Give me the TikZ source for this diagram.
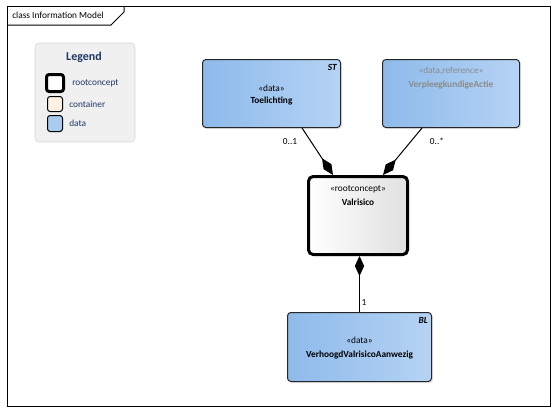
\documentclass[tikz,border=0pt]{standalone}
\usepackage{fontspec}
\setmainfont{Carlito}
\usetikzlibrary{arrows.meta,shadows}

\definecolor{dataleft}{RGB}{142,186,235}
\definecolor{dataright}{RGB}{181,211,244}
\definecolor{rootright}{RGB}{224,224,224}
\definecolor{legendfill}{RGB}{240,240,240}
\definecolor{legendline}{RGB}{214,214,214}
\definecolor{legendtext}{RGB}{31,56,100}
\definecolor{containerfill}{RGB}{253,241,227}
\definecolor{datafill}{RGB}{169,203,240}
\definecolor{refgray}{RGB}{138,138,138}

\begin{document}
\begin{tikzpicture}
  [
    x=0.75pt, y=-0.75pt,
    font=\fontsize{7}{8.5}\selectfont,
    >={Diamond[length=15pt,width=7pt]},
    data box/.style={draw=black!85, line width=0.75pt, rounded corners=2.5pt,
      left color=dataleft, right color=dataright, inner sep=0pt},
    root box/.style={draw=black, line width=2.25pt, rounded corners=3.5pt,
      left color=white, right color=rootright, inner sep=0pt},
    shadowed/.style={drop shadow={opacity=0.2,shadow xshift=1.2pt,shadow yshift=-1.2pt}},
    key box/.style={draw=black, line width=0.75pt, rounded corners=2pt, inner sep=0pt},
    key text/.style={anchor=west, text=legendtext, inner sep=0pt},
    class stereo/.style={inner sep=0pt},
    class name/.style={inner sep=0pt, font=\fontsize{7}{8.5}\selectfont\bfseries},
    class tag/.style={anchor=north east, inner sep=0pt, font=\fontsize{7}{8.5}\selectfont\bfseries\itshape},
    composition/.style={draw=black, line width=0.75pt, ->},
  ]
  \useasboundingbox (0,0) rectangle (556,412);

  % frame
  \draw [line width=0.75pt] (7,6) rectangle (550,406);
  \draw [line width=0.75pt] (7,25) -- (111,25) -- (124,12) -- (124,6);
  \node [anchor=west, inner sep=0pt] (title) at (12,15.5) {class Information Model};

  % legend
  \node [fill=legendfill, draw=legendline, rounded corners=3pt, minimum width=75pt,
    minimum height=74.25pt, inner sep=0pt] (legend) at (85,92.5) {};
  \node [font=\fontsize{9}{10}\selectfont\bfseries, text=legendtext] (legend title) at (84,57) {Legend};
  \node [key box, line width=2.25pt, fill=white, minimum width=12.75pt, minimum height=12.75pt] (key root) at (55,83) {};
  \node [key box, fill=containerfill, minimum width=11.25pt, minimum height=11.25pt] (key container) at (55,104) {};
  \node [key box, fill=datafill, minimum width=11.25pt, minimum height=12pt] (key data) at (55,123.5) {};
  \node [key text] (key root text) at (72,83) {rootconcept};
  \node [key text] (key container text) at (69,104) {container};
  \node [key text] (key data text) at (69,123.5) {data};

  % classes
  \node [data box, shadowed, minimum width=103.5pt, minimum height=51pt] (toelichting) at (271.5,93.5) {};
  \node [class tag] (toelichting tag) at ([xshift=-3pt,yshift=-4pt]toelichting.north east) {ST};
  \node [class stereo] (toelichting stereo) at (271.5,88) {«data»};
  \node [class name] (toelichting name) at (271.5,101) {Toelichting};

  \node [data box, shadowed, minimum width=102.75pt, minimum height=51pt] (verpleeg) at (451,93.5) {};
  \node [class stereo, text=refgray] (verpleeg stereo) at (451,71) {«data,reference»};
  \node [class name, text=refgray] (verpleeg name) at (451,85) {VerpleegkundigeActie};

  \node [root box, shadowed, minimum width=74.25pt, minimum height=58.5pt] (valrisico) at (358,215.5) {};
  \node [class stereo] (valrisico stereo) at (358,189) {«rootconcept»};
  \node [class name] (valrisico name) at (358,202) {Valrisico};

  \node [data box, shadowed, minimum width=108pt, minimum height=51.75pt] (verhoogd) at (359.5,347) {};
  \node [class tag] (verhoogd tag) at ([xshift=-3pt,yshift=-4pt]verhoogd.north east) {BL};
  \node [class stereo] (verhoogd stereo) at (359.5,340) {«data»};
  \node [class name] (verhoogd name) at (359.5,355) {VerhoogdValrisicoAanwezig};

  % compositions
  \draw [composition] ([xshift=22.9pt]toelichting.south) -- ([xshift=-18.75pt]valrisico.north);
  \draw [composition] ([xshift=-21.75pt]verpleeg.south) -- ([xshift=18.75pt]valrisico.north);
  \draw [composition] (verhoogd.north) -- (verhoogd.north |- valrisico.south);
  \node (toelichting card) at (290,141) {0..1};
  \node (verpleeg card) at (437,141) {0..*};
  \node (verhoogd card) at (364,302) {1};
\end{tikzpicture}
\end{document}
